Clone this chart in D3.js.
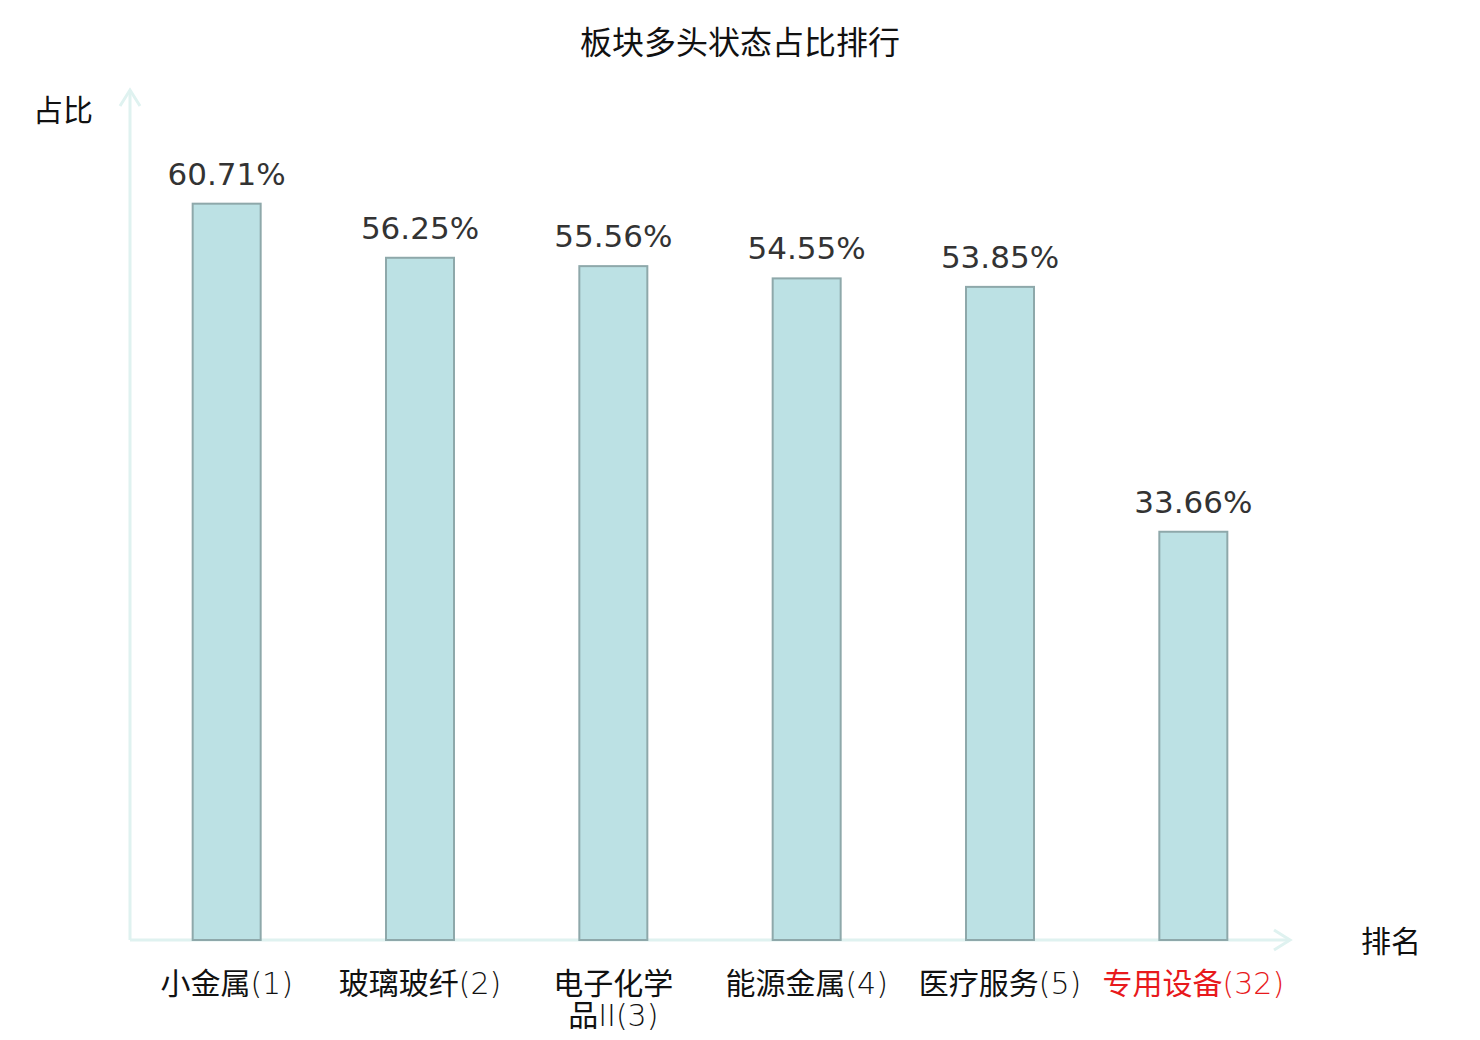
<!DOCTYPE html>
<html>
<head>
<meta charset="utf-8">
<script src="https://cdn.jsdelivr.net/npm/d3@7"></script>
<style>
  body { margin: 0; background: #fff; }
</style>
</head>
<body>
<div id="plot"></div>
<script>
// Chart data
const categories = ["小金属(1)", "玻璃玻纤(2)", "电子化学品II(3)", "能源金属(4)", "医疗服务(5)", "专用设备(32)"];
const labelLines = [["小金属(1)"], ["玻璃玻纤(2)"], ["电子化学", "品II(3)"], ["能源金属(4)"], ["医疗服务(5)"], ["专用设备(32)"]];
const values = [60.71, 56.25, 55.56, 54.55, 53.85, 33.66];
const highlighted = ["专用设备(32)"];

const W = 1480, H = 1040;
const x0 = 130, x1 = 1290, yBase = 940, yTop = 91;

const cjkFont = '"Noto Sans CJK SC", sans-serif';
const latinFont = '"DejaVu Sans", sans-serif';

const svg = d3.select("#plot")
    .append("svg")
    .attr("width", W)
    .attr("height", H);

const x = d3.scaleBand()
    .domain(categories)
    .range([x0, x1])
    .padding(0);

const y = d3.scaleLinear()
    .domain([0, 70])
    .range([yBase, yTop]);

const axisColor = "#dff2f0";

// Title
svg.append("text")
    .attr("x", 740)
    .attr("y", 54)
    .attr("text-anchor", "middle")
    .style("font-family", cjkFont)
    .style("font-size", "32px")
    .attr("fill", "#111")
    .text("板块多头状态占比排行");

// Axes with arrow heads
svg.append("line")
    .attr("x1", x0).attr("y1", yBase)
    .attr("x2", x0).attr("y2", 90)
    .attr("stroke", axisColor).attr("stroke-width", 3);
svg.append("path")
    .attr("d", `M${x0 - 10},${106} L${x0},${90} L${x0 + 10},${106}`)
    .attr("fill", "none").attr("stroke", axisColor).attr("stroke-width", 3);

svg.append("line")
    .attr("x1", x0).attr("y1", yBase)
    .attr("x2", x1).attr("y2", yBase)
    .attr("stroke", axisColor).attr("stroke-width", 3);
svg.append("path")
    .attr("d", `M${x1 - 16},${yBase - 10} L${x1},${yBase} L${x1 - 16},${yBase + 10}`)
    .attr("fill", "none").attr("stroke", axisColor).attr("stroke-width", 3);

// Axis names
svg.append("text")
    .attr("x", 63).attr("y", 121)
    .attr("text-anchor", "middle")
    .style("font-family", cjkFont)
    .style("font-size", "30px")
    .attr("fill", "#111")
    .text("占比");

svg.append("text")
    .attr("x", 1391).attr("y", 952)
    .attr("text-anchor", "middle")
    .style("font-family", cjkFont)
    .style("font-size", "30px")
    .attr("fill", "#111")
    .text("排名");

// Bars
const barW = 68;
const barData = categories.map((c, i) => ({ category: c, value: values[i] }));

svg.selectAll("rect.bar")
    .data(barData)
    .join("rect")
    .attr("class", "bar")
    .attr("x", d => x(d.category) + x.bandwidth() / 2 - barW / 2)
    .attr("y", d => y(d.value))
    .attr("width", barW)
    .attr("height", d => yBase - y(d.value))
    .attr("fill", "#bce1e4")
    .attr("stroke", "#8ea8aa")
    .attr("stroke-width", 2);

// Value labels
svg.selectAll("text.val")
    .data(barData)
    .join("text")
    .attr("class", "val")
    .attr("x", d => x(d.category) + x.bandwidth() / 2)
    .attr("y", d => y(d.value) - 19)
    .attr("text-anchor", "middle")
    .style("font-family", latinFont)
    .style("font-size", "31px")
    .attr("fill", "#333")
    .text(d => d.value.toFixed(2) + "%");

// Category labels, one text per line; latin parts set thin like the original
const lineData = [];
categories.forEach((c, i) => {
    labelLines[i].forEach((l, j) => lineData.push({ category: c, text: l, row: j }));
});

const cat = svg.selectAll("text.cat")
    .data(lineData)
    .join("text")
    .attr("class", "cat")
    .attr("x", d => x(d.category) + x.bandwidth() / 2)
    .attr("y", d => 994 + d.row * 32)
    .attr("text-anchor", "middle")
    .style("font-size", "30px")
    .attr("fill", d => highlighted.includes(d.category) ? "#e8191c" : "#111");

cat.selectAll("tspan")
    .data(d => d.text.match(/[\u4e00-\u9fff]+|[^\u4e00-\u9fff]+/g))
    .join("tspan")
    .style("font-family", s => /[\u4e00-\u9fff]/.test(s) ? cjkFont : latinFont)
    .style("font-weight", s => /[\u4e00-\u9fff]/.test(s) ? 400 : 200)
    .text(s => s);
</script>
</body>
</html>
